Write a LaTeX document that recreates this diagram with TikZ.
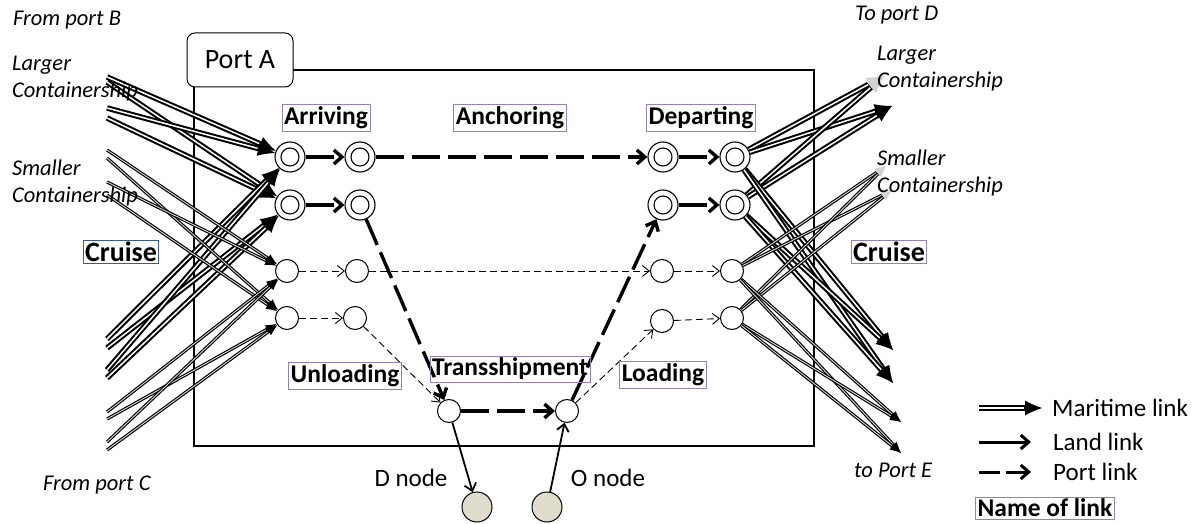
\documentclass[tikz,border=0pt]{standalone}
\usepackage{fontspec}
\setmainfont{Carlito}
\usetikzlibrary{arrows.meta}
\definecolor{lblpurple}{RGB}{150,128,184}
\definecolor{lblblue}{RGB}{56,93,138}
\definecolor{odfill}{RGB}{224,221,205}
\newcommand\mlink[3]{\draw[#1out] (#2) -- (#3); \draw[#1in] (#2) -- (#3);}
\begin{document}
\begin{tikzpicture}[x=1pt,y=-1pt,
  bigout/.style={line width=5.6pt,-{Latex[length=17pt,width=15pt,line width=0pt]}},
  bigin/.style={line width=1.5pt,white,shorten >=18pt},
  biggout/.style={line width=5.6pt,-{Latex[length=17pt,width=15pt,line width=0pt,color=gray!35]}},
  biggin/.style={line width=1.5pt,white,shorten >=18pt},
  smout/.style={line width=3.2pt,-{Latex[length=11pt,width=9pt,line width=0pt]}},
  smin/.style={line width=0.9pt,gray!30,shorten >=12pt},
  smgout/.style={line width=3.2pt,-{Latex[length=11pt,width=9pt,line width=0pt,color=gray!35]}},
  smgin/.style={line width=0.9pt,gray!30,shorten >=12pt},
  portthick/.style={line width=3.4pt,dash pattern=on 28pt off 8pt,-{Straight Barb[length=8pt,width=14pt,line width=3.4pt]}},
  portthin/.style={line width=0.9pt,dash pattern=on 7pt off 4pt,-{Straight Barb[length=7pt,width=11pt,line width=0.9pt]}},
  landlink/.style={line width=1.8pt,-{Straight Barb[length=7pt,width=12pt,line width=1.8pt]}},
  dbl/.style={circle,draw,line width=1.1pt,minimum size=30pt,inner sep=0pt,fill=white,
    path picture={\draw[line width=1.1pt] (path picture bounding box.center) circle (9pt);}},
  sgl/.style={circle,draw,line width=1pt,minimum size=23pt,inner sep=0pt,fill=white},
  odn/.style={circle,draw,line width=1pt,minimum size=30pt,inner sep=0pt,fill=odfill},
  lbl/.style={draw=lblpurple,line width=0.8pt,inner sep=2pt,font=\fontsize{25.5}{27}\selectfont\bfseries},
  cruise/.style={line width=0.8pt,inner sep=1.5pt,font=\fontsize{28}{30}\selectfont\bfseries},
  ital/.style={anchor=west,inner sep=0pt,font=\fontsize{22.5}{24}\selectfont\itshape},
  plain/.style={inner sep=0pt,font=\fontsize{25}{27}\selectfont}
]
\useasboundingbox (0,0) rectangle (1195,524);
% port box
\draw[line width=1.8pt] (194,70) rectangle (814,446);
\node[draw,rounded corners=8pt,fill=white,line width=1pt,minimum width=106pt,minimum height=54pt,
  font=\fontsize{28}{30}\selectfont] (portA) at (240,60) {Port A};

% nodes
\node[dbl] (L1) at (290,157) {};
\node[dbl] (M1) at (360,157) {};
\node[dbl] (P1) at (663,157) {};
\node[dbl] (Q1) at (735,157) {};
\node[dbl] (L2) at (290,205) {};
\node[dbl] (M2) at (360,205) {};
\node[dbl] (P2) at (663,205) {};
\node[dbl] (Q2) at (735,205) {};
\node[sgl] (L3) at (287,271) {};
\node[sgl] (M3) at (357,271) {};
\node[sgl] (P3) at (662,271) {};
\node[sgl] (Q3) at (732,271) {};
\node[sgl] (L4) at (287,318) {};
\node[sgl] (M4) at (355,318) {};
\node[sgl] (P4) at (662,321) {};
\node[sgl] (Q4) at (732,318) {};
\node[sgl] (T1) at (449,411) {};
\node[sgl] (T2) at (567,411) {};
\node[odn] (Dn) at (477,507) {};
\node[odn] (On) at (547,507) {};

% free ends
\coordinate (bL1) at (107,77);
\coordinate (bL2) at (107,82);
\coordinate (bL3) at (107,108);
\coordinate (bL4) at (107,118);
\coordinate (cL1) at (107,339);
\coordinate (cL2) at (107,348);
\coordinate (cL3) at (107,370);
\coordinate (cL4) at (107,378);
\coordinate (bS1) at (107,150);
\coordinate (bS2) at (107,158);
\coordinate (bS3) at (107,182);
\coordinate (bS4) at (107,195);
\coordinate (cS1) at (107,412);
\coordinate (cS2) at (107,419);
\coordinate (cS3) at (107,442);
\coordinate (cS4) at (107,450);
\coordinate (dL1) at (884,76);
\coordinate (dL2) at (892,106);
\coordinate (eL1) at (893,350);
\coordinate (eL2) at (893,383);
\coordinate (dS1) at (886,166);
\coordinate (dS2) at (892,190);
\coordinate (eS1) at (901,422);
\coordinate (eS2) at (901,453);

% maritime links, left
\mlink{big}{bL1}{L1}
\mlink{big}{bL2}{L2}
\mlink{big}{bL3}{L1}
\mlink{big}{bL4}{L2}
\mlink{big}{cL1}{L1}
\mlink{big}{cL2}{L2}
\mlink{big}{cL3}{L1}
\mlink{big}{cL4}{L2}
\mlink{sm}{bS1}{L3}
\mlink{sm}{bS2}{L4}
\mlink{sm}{bS3}{L3}
\mlink{sm}{bS4}{L4}
\mlink{sm}{cS1}{L3}
\mlink{sm}{cS2}{L4}
\mlink{sm}{cS3}{L3}
\mlink{sm}{cS4}{L4}
% maritime links, right
\mlink{bigg}{Q1}{dL1}
\mlink{big}{Q1}{dL2}
\mlink{bigg}{Q2}{dL1}
\mlink{big}{Q2}{dL2}
\mlink{big}{Q1}{eL1}
\mlink{big}{Q1}{eL2}
\mlink{big}{Q2}{eL1}
\mlink{big}{Q2}{eL2}
\mlink{smg}{Q3}{dS1}
\mlink{smg}{Q3}{dS2}
\mlink{smg}{Q4}{dS1}
\mlink{smg}{Q4}{dS2}
\mlink{sm}{Q3}{eS1}
\mlink{sm}{Q3}{eS2}
\mlink{sm}{Q4}{eS1}
\mlink{sm}{Q4}{eS2}

% port links
\draw[portthick] (L1) -- (M1);
\draw[portthick] (M1) -- (P1);
\draw[portthick] (P1) -- (Q1);
\draw[portthick] (L2) -- (M2);
\draw[portthick] (M2) -- (T1);
\draw[portthick] (T1) -- (T2);
\draw[portthick] (T2) -- (P2);
\draw[portthick] (P2) -- (Q2);
\draw[portthin] (L3) -- (M3);
\draw[portthin] (M3) -- (P3);
\draw[portthin] (P3) -- (Q3);
\draw[portthin] (L4) -- (M4);
\draw[portthin] (M4) -- (T1);
\draw[portthin] (T2) -- (P4);
\draw[portthin] (P4) -- (Q4);
% land links
\draw[landlink] (T1) -- (Dn);
\draw[landlink] (On) -- (T2);

% link names
\node[lbl] (arr) at (326,118) {Arriving};
\node[lbl] (anc) at (510,118) {Anchoring};
\node[lbl] (dep) at (701,118) {Departing};
\node[lbl] (unl) at (345,376) {Unloading};
\node[lbl] (tra) at (510,369) {Transshipment};
\node[lbl] (loa) at (663,375) {Loading};
\node[cruise,draw=lblblue] (crL) at (121,252) {Cruise};
\node[cruise,draw=lblpurple] (crR) at (889,252) {Cruise};

% texts
\node[ital] (fB) at (13,20) {From port B};
\node[ital] (lgA) at (12,65) {Larger};
\node[ital] (lgB) at (12,92) {Containership};
\node[ital] (smA) at (12,168) {Smaller};
\node[ital] (smB) at (12,197) {Containership};
\node[ital] (fC) at (43,485) {From port C};
\node[ital] (tD) at (855,15) {To port D};
\node[ital] (rlgA) at (877,55) {Larger};
\node[ital] (rlgB) at (877,82) {Containership};
\node[ital] (rsmA) at (877,158) {Smaller};
\node[ital] (rsmB) at (877,187) {Containership};
\node[ital] (tE) at (854,470) {to Port E};
\node[plain] (dnt) at (411,478) {D node};
\node[plain] (ont) at (608,478) {O node};

% legend
\coordinate (gM1) at (979,408);
\coordinate (gM2) at (1042,408);
\mlink{big}{gM1}{gM2}
\node[plain,anchor=west] (gMt) at (1052,408) {Maritime link};
\coordinate (gL1) at (979,442);
\coordinate (gL2) at (1031,442);
\draw[line width=3pt,-{Straight Barb[length=8pt,width=14pt,line width=3pt]}] (gL1) -- (gL2);
\node[plain,anchor=west] (gLt) at (1053,442) {Land link};
\coordinate (gP1) at (979,472);
\coordinate (gP2) at (1031,472);
\draw[line width=3pt,dash pattern=on 21pt off 6pt,-{Straight Barb[length=8pt,width=14pt,line width=3pt]}] (gP1) -- (gP2);
\node[plain,anchor=west] (gPt) at (1053,472) {Port link};
\node[lbl] (gN) at (1045,508) {Name of link};
\end{tikzpicture}
\end{document}
